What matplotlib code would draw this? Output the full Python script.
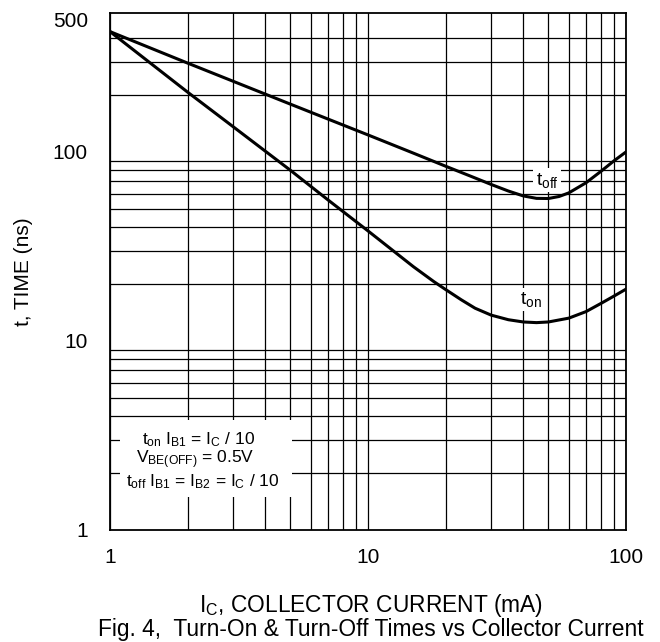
import matplotlib
matplotlib.use("Agg")
import matplotlib.pyplot as plt
from matplotlib.ticker import FixedLocator, NullFormatter
from matplotlib.patches import Rectangle

plt.rcParams['font.family'] = ['Liberation Sans', 'DejaVu Sans']
plt.rcParams['mathtext.fontset'] = 'custom'
plt.rcParams['mathtext.rm'] = 'Liberation Sans'
plt.rcParams['mathtext.it'] = 'Liberation Sans:italic'
plt.rcParams['mathtext.bf'] = 'Liberation Sans:bold'

# turn-on time vs collector current (mA -> ns)
ic_on = [1, 2, 3, 5, 7, 10, 15, 18, 20, 23, 26, 30, 35, 40, 45, 50, 60, 70, 80, 90, 100]
t_on = [433, 207, 136, 80, 55.7, 38.2, 24.7, 20.6, 18.7, 16.5, 14.9, 13.7, 12.95, 12.6,
        12.5, 12.6, 13.2, 14.3, 15.8, 17.3, 18.8]

# turn-off time vs collector current
ic_off = [1, 2, 5, 10, 15, 20, 25, 30, 35, 40, 45, 50, 55, 60, 70, 80, 90, 100]
t_off = [433, 295, 179, 123, 98.5, 84, 74.4, 67.3, 62.1, 58.5, 56.8, 56.7, 58.1, 60.7,
         68.7, 79.0, 89.9, 100]

x_ticks = [1, 10, 100]
y_ticks = [1, 10, 100, 500]
x_grid = [2, 3, 4, 5, 6, 7, 8, 9, 20, 30, 40, 50, 60, 70, 80, 90]
y_grid = [2, 3, 4, 5, 6, 7, 8, 9, 10, 20, 30, 40, 50, 60, 70, 80, 90, 100, 200, 300, 400]

fig = plt.figure(figsize=(6.6, 6.42), dpi=100)
ax = fig.add_axes([0.1667, 0.1745, 0.7818, 0.8045])

ax.set_xscale('log')
ax.set_yscale('log')
ax.set_xlim(1, 100)
ax.set_ylim(1, 540)

ax.xaxis.set_major_locator(FixedLocator(x_ticks))
ax.xaxis.set_minor_locator(FixedLocator(x_grid))
ax.yaxis.set_major_locator(FixedLocator(y_ticks))
ax.yaxis.set_minor_locator(FixedLocator(y_grid))
ax.set_xticklabels([str(v) for v in x_ticks])
ax.set_yticklabels([str(v) for v in y_ticks])
ax.xaxis.set_minor_formatter(NullFormatter())
ax.yaxis.set_minor_formatter(NullFormatter())
ax.tick_params(which='both', length=0, labelsize=15)
ax.tick_params(axis='x', pad=13)
ax.tick_params(axis='y', pad=16)

ax.grid(True, which='minor', color='black', lw=0.9)
ax.grid(True, which='major', axis='x', color='black', lw=0.9)
for s in ax.spines.values():
    s.set_linewidth(1.3)

ax.plot(ic_on, t_on, color='black', lw=2.2)
ax.plot(ic_off, t_off, color='black', lw=2.2)

ax.text(49.4, 71, r't$_{\mathrm{off}}$', fontsize=14, ha='center', va='center',
        bbox=dict(facecolor='white', edgecolor='none', pad=1.5))
ax.text(42.8, 16.5, r't$_{\mathrm{on}}$', fontsize=14, ha='center', va='center',
        bbox=dict(facecolor='white', edgecolor='none', pad=1.5))

# condition box
ax.add_patch(Rectangle((0.0194, 0.064), 0.333, 0.149, transform=ax.transAxes,
                       facecolor='white', edgecolor='none', zorder=2))
ax.text(0.1725, 0.174, r't$_{\mathrm{on}}$ I$_{\mathrm{B1}}$ = I$_{\mathrm{C}}$ / 10',
        transform=ax.transAxes, fontsize=12.5, ha='center', va='center', zorder=3)
ax.text(0.165, 0.137, r'V$_{\mathrm{BE(OFF)}}$ = 0.5V',
        transform=ax.transAxes, fontsize=12.5, ha='center', va='center', zorder=3)
ax.text(0.180, 0.093, r't$_{\mathrm{off}}$ I$_{\mathrm{B1}}$ = I$_{\mathrm{B2}}$ = I$_{\mathrm{C}}$ / 10',
        transform=ax.transAxes, fontsize=12.5, ha='center', va='center', zorder=3)

ax.set_ylabel('t, TIME (ns)', fontsize=15, labelpad=14)
fig.text(0.562, 1 - 612 / 642, r'I$_{\mathrm{C}}$, COLLECTOR CURRENT (mA)',
         fontsize=16.4, ha='center', va='baseline')
fig.text(0.562, 1 - 636 / 642, 'Fig. 4,  Turn-On & Turn-Off Times vs Collector Current',
         fontsize=16.4, ha='center', va='baseline')

fig.savefig('out.png', dpi=100)
